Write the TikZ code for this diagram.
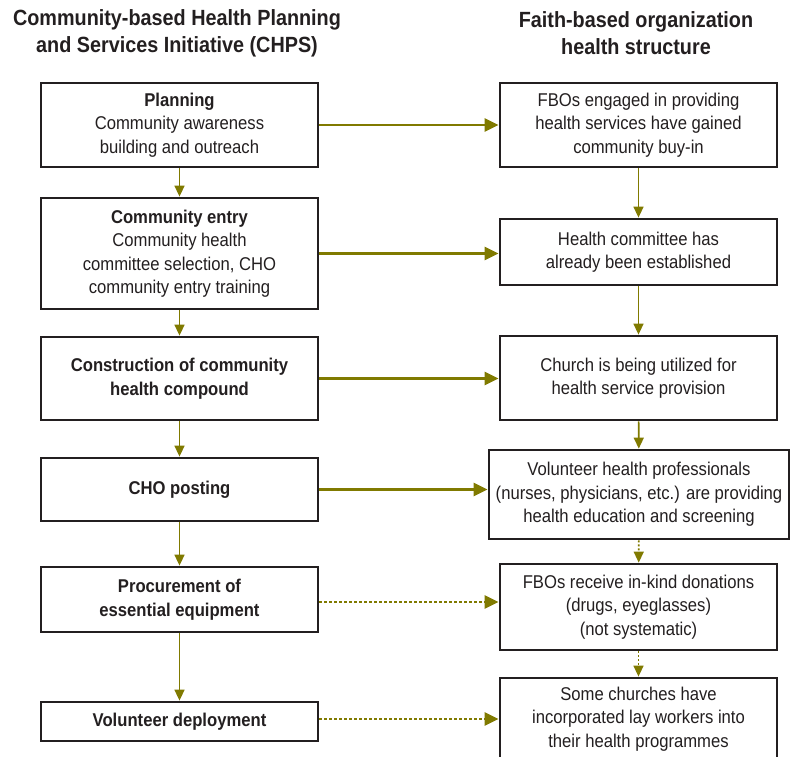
\documentclass[tikz,border=0pt]{standalone}
\usepackage{fontspec}
\setmainfont{Liberation Sans}[FakeStretch=0.9]
\usetikzlibrary{arrows.meta}
\definecolor{olivearrow}{RGB}{128,122,0}
\definecolor{inkgray}{RGB}{35,31,32}

\begin{document}
\begin{tikzpicture}[x=1pt, y=-1pt,
    box/.style={draw=inkgray, line width=2.8pt, fill=white, align=center, text=inkgray,
      inner sep=0pt, minimum width=277pt, font=\fontsize{18.5}{23.5}\selectfont},
    head/.style={align=center, text=inkgray, font=\fontsize{22}{27}\selectfont\bfseries},
    hflow/.style={draw=olivearrow, line width=2.5pt, -{Triangle[length=14pt, width=13pt]}},
    vflow/.style={draw=olivearrow, line width=1.6pt, -{Triangle[length=11pt, width=10pt]}},
    hdot/.style={hflow, dash pattern=on 2.5pt off 2.5pt},
    vdot/.style={vflow, dash pattern=on 2pt off 2pt}]
    \useasboundingbox (0,0) rectangle (790,757);

    % 見出し
    \node[head] (headL) at (177, 33) {Community-based Health Planning\\and Services Initiative (CHPS)};
    \node[head] (headR) at (636, 33) {Faith-based organization\\health structure};

    % CHPS の段階
    \node[box, minimum height=84pt] (plan) at (179.5, 125) {\textbf{Planning}\\Community awareness\\building and outreach};
    \node[box, minimum height=111pt] (entry) at (179.5, 253.5) {\textbf{Community entry}\\Community health\\committee selection, CHO\\community entry training};
    \node[box, minimum height=83pt] (build) at (179.5, 378.5) {\textbf{Construction of community}\\\textbf{health compound}};
    \node[box, minimum height=63pt] (post) at (179.5, 489.5) {\textbf{CHO posting}};
    \node[box, minimum height=65pt] (equip) at (179.5, 599.5) {\textbf{Procurement of}\\\textbf{essential equipment}};
    \node[box, minimum height=39pt] (volun) at (179.5, 721.5) {\textbf{Volunteer deployment}};

    % FBO の構造
    \node[box, minimum height=84pt] (buyin) at (638.5, 125) {FBOs engaged in providing\\health services have gained\\community buy-in};
    \node[box, minimum height=66pt] (cmte) at (638.5, 252) {Health committee has\\already been established};
    \node[box, minimum height=84pt] (church) at (638.5, 378) {Church is being utilized for\\health service provision};
    \node[box, minimum height=89pt, minimum width=300pt] (prof) at (639, 494.5) {Volunteer health professionals\\(nurses, physicians, etc.) are providing\\health education and screening};
    \node[box, minimum height=86pt] (gift) at (638.5, 607) {FBOs receive in-kind donations\\(drugs, eyeglasses)\\(not systematic)};
    \node[box, minimum height=82pt] (lay) at (638.5, 719) {Some churches have\\incorporated lay workers into\\their health programmes};

    % 縦の矢印
    \draw[vflow] (plan) -- (entry);
    \draw[vflow] (entry) -- (build);
    \draw[vflow] (build) -- (post);
    \draw[vflow] (post) -- (equip);
    \draw[vflow] (equip) -- (volun);
    \draw[vflow] (buyin) -- (cmte);
    \draw[vflow] (cmte) -- (church);
    \draw[vflow] (church) -- (prof);
    \draw[vdot] (prof) -- (gift);
    \draw[vdot] (gift) -- (lay);

    % 横の矢印
    \draw[hflow] (plan.east) -- (plan.east -| buyin.west);
    \draw[hflow] (entry.east) -- (entry.east -| cmte.west);
    \draw[hflow] (build.east) -- (build.east -| church.west);
    \draw[hflow] (post.east) -- (post.east -| prof.west);
    \draw[hdot] ([yshift=-2.5pt]equip.east) -- ([yshift=-2.5pt]equip.east -| gift.west);
    \draw[hdot] ([yshift=2.5pt]volun.east) -- ([yshift=2.5pt]volun.east -| lay.west);
\end{tikzpicture}
\end{document}
